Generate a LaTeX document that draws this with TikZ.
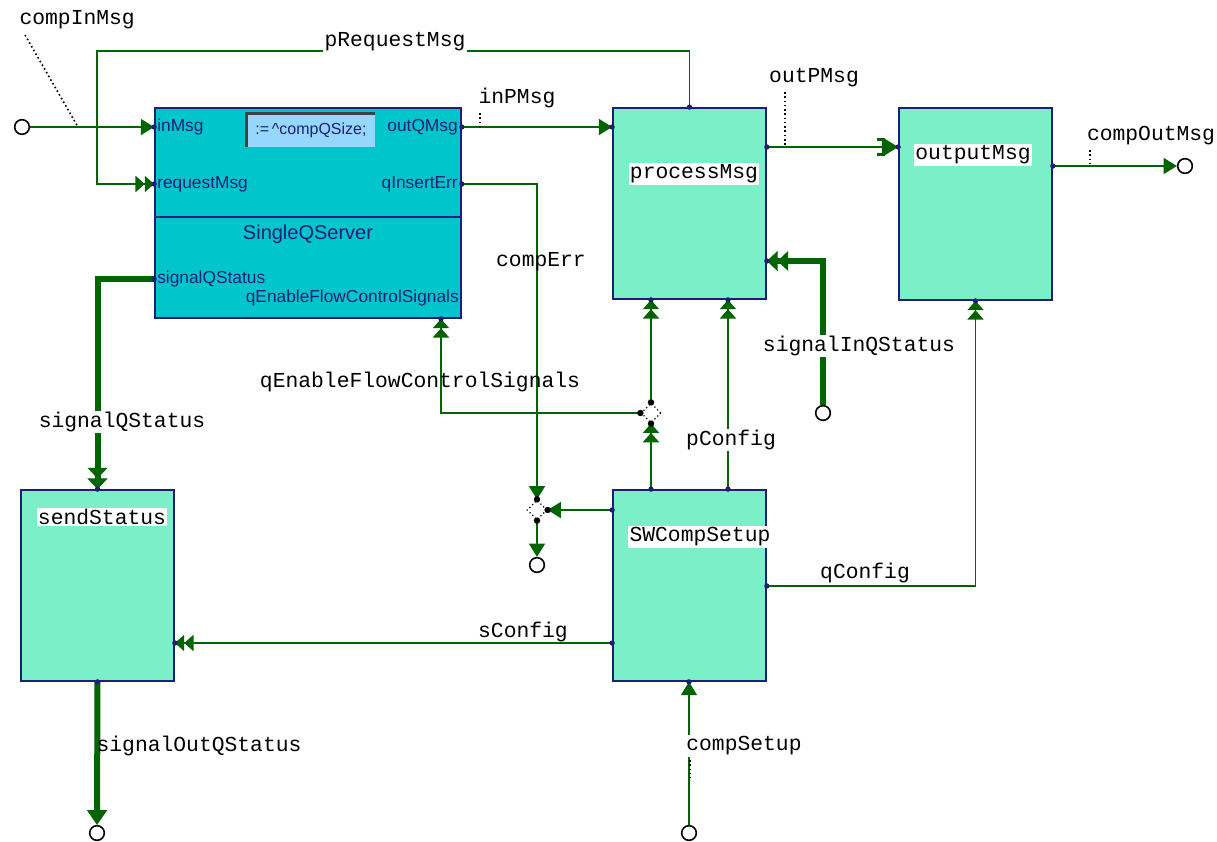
\documentclass[tikz,border=0pt]{standalone}
\usepackage{fontspec}
\setmainfont{Liberation Sans}
\newfontfamily\monofnt{Liberation Mono}
\usetikzlibrary{arrows.meta,shapes.geometric}
\definecolor{wgreen}{RGB}{0,100,0}
\definecolor{aqua}{RGB}{122,239,200}
\definecolor{cyanbox}{RGB}{0,198,204}
\definecolor{navy}{RGB}{30,30,120}
\definecolor{fieldblue}{RGB}{150,215,255}
\begin{document}
\begin{tikzpicture}[x=0.75pt,y=-0.75pt,
 wire/.style={draw=wgreen,line width=1.4pt},
 fat/.style={draw=wgreen,line width=4.5pt},
 blk/.style={draw=navy,fill=aqua,line width=1.3pt,minimum width=114.75pt,minimum height=143.25pt,inner sep=0pt},
 lbl/.style={font=\monofnt\fontsize{16}{18}\selectfont,inner sep=1pt,text=black},
 wlbl/.style={lbl,fill=white},
 plbl/.style={font=\fontsize{13}{15}\selectfont,text=navy,inner sep=0pt},
 term/.style={circle,draw=black,line width=1.2pt,minimum size=11pt,inner sep=0pt,fill=white},
 junc/.style={diamond,draw=black,dotted,line width=0.9pt,minimum size=15pt,inner sep=0pt,fill=white},
 tipone/.style={-{Triangle[width=12pt,length=10pt]}},
 tiptwo/.style={-{Triangle[width=12pt,length=7pt] Triangle[width=12pt,length=7pt]}},
 tipbr/.style={-{Bracket[width=13pt,length=5pt,line width=2pt] Triangle[width=12pt,length=10pt]}},
 fatone/.style={-{Triangle[width=15pt,length=11pt,line width=0.5pt]}},
 fattwo/.style={-{Triangle[width=15pt,length=8pt,line width=0.5pt] Triangle[width=15pt,length=8pt,line width=0.5pt]}},
 dots/.style={draw=black,dotted,line width=1.2pt},
]
\useasboundingbox[fill=white] (0,0) rectangle (1217,842);

% blocks
\node[blk,fill=cyanbox,minimum width=229.5pt,minimum height=157.5pt] (sqs) at (308,213) {};
\draw[navy,line width=1.3pt] (sqs.west |- 0,217) -- (sqs.east |- 0,217);
\node[blk] (pm) at (689.5,203.5) {};
\node[blk,minimum height=144pt] (om) at (975.5,204) {};
\node[blk] (sw) at (689.5,585.5) {};
\node[blk] (ss) at (97.5,585.5) {};

% SingleQServer contents
\node[plbl,anchor=west] (inmsg) at (157,127) {inMsg};
\node[plbl,anchor=west] (reqmsg) at (157,184) {requestMsg};
\node[plbl,anchor=east] (outq) at (458,127) {outQMsg};
\node[plbl,anchor=east] (qins) at (458,184) {qInsertErr};
\node[plbl,anchor=west] (sqst) at (157,279) {signalQStatus};
\node[plbl,anchor=east] (qefc) at (459,298) {qEnableFlowControlSignals};
\node[font=\fontsize{15}{17}\selectfont,text=navy] (sqsname) at (308,234) {SingleQServer};
\node[fill=fieldblue,minimum width=96pt,minimum height=24.75pt,inner sep=0pt,font=\fontsize{12}{14}\selectfont,text=navy] (fld) at (311,130) {:=\,\textasciicircum compQSize;};
\draw[darkgray,line width=2pt] (fld.south west) -- (fld.north west) -- (fld.north east);

% block titles
\node[wlbl] (tpm) at (694,174) {processMsg};
\node[wlbl] (tom) at (973,155) {outputMsg};
\node[wlbl] (tsw) at (700,537) {SWCompSetup};
\node[wlbl] (tss) at (102,517) {sendStatus};

% terminals
\node[term] (tin) at (22,127) {};
\node[term] (tout) at (1185,166) {};
\node[term] (tsig) at (823,413) {};
\node[term] (terr) at (537,565) {};
\node[term] (tsout) at (97,833) {};
\node[term] (tset) at (689,833) {};

% junctions
\node[junc] (j1) at (537,510) {};
\node[junc] (j2) at (651,413) {};

% wires
\draw[wire,tipone] (tin.east) -- (tin.east -| sqs.west);
\coordinate (prA) at (97,51);
\draw[wire,tiptwo] (pm.north) |- (prA) |- (sqs.west |- 0,184);
\draw[wire,tipone] (sqs.east |- 0,127) -- (pm.west |- 0,127);
\draw[wire,tipbr] (pm.east |- 0,147) -- (om.west |- 0,147);
\draw[wire,tipone] (om.east |- 0,166) -- (tout.west);
\draw[fat,fattwo] (tsig.north) |- (pm.east |- 0,261);
\draw[wire,tipone] (sqs.east |- 0,184) -| (j1.north);
\draw[wire,tipone] (j1.south) -- (terr.north);
\draw[wire,tipone] (sw.west |- j1) -- (j1.east);
\draw[wire,tiptwo] (sw.north -| j2) -- (j2.south);
\draw[wire,tiptwo] (j2.north) -- (pm.south -| j2);
\draw[wire,tiptwo] (j2.west) -| (sqs.south -| 441,0);
\draw[wire,tiptwo] (sw.north -| 728,0) -- (pm.south -| 728,0);
\draw[wire,tiptwo] (sw.east |- 0,586) -| (om.south);
\draw[wire,tiptwo] (sw.west |- 0,643) -- (ss.east |- 0,643);
\draw[fat,fattwo] (sqs.west |- 0,279) -| (ss.north);
\draw[fat,fatone] (ss.south) -- (tsout.north);
\draw[wire,tipone] (tset.north) -- (sw.south -| tset);

% junction corner dots
\foreach \p in {j1.north,j1.south,j1.east,j2.north,j2.south,j2.west}
  \fill[black] (\p) circle (2.4pt);

% port dots
\foreach \p in {{sqs.west |- 0,127},{sqs.west |- 0,184},{sqs.east |- 0,127},{sqs.east |- 0,184},{sqs.west |- 0,279},{sqs.south -| 441,0},
  {pm.north},{pm.west |- 0,127},{pm.east |- 0,147},{pm.east |- 0,261},{pm.south -| j2},{pm.south -| 728,0},
  {om.west |- 0,147},{om.east |- 0,166},{om.south},
  {sw.north -| j2},{sw.north -| 728,0},{sw.west |- j1},{sw.east |- 0,586},{sw.west |- 0,643},{sw.south -| tset},
  {ss.north},{ss.east |- 0,643},{ss.south}}
  \fill[navy] (\p) circle (2pt);

% labels
\node[lbl,anchor=west] (lcin) at (18,20) {compInMsg};
\coordinate (cinT) at (78,127);
\draw[dots] (25,35) -- (cinT);
\node[wlbl] (lpr) at (395,42) {pRequestMsg};
\node[lbl] (linp) at (517,98) {inPMsg};
\draw[dots] (480,113) -- (480,127);
\node[lbl] (loutp) at (814,78) {outPMsg};
\draw[dots] (785,92) -- (785,147);
\node[lbl] (lcout) at (1151,136) {compOutMsg};
\draw[dots] (1090,150) -- (1090,166);
\node[wlbl] (lsig) at (859,346) {signalInQStatus};
\node[lbl] (lerr) at (541,262) {compErr};
\node[lbl] (lqe) at (420,382) {qEnableFlowControlSignals};
\node[wlbl] (lpc) at (731,440) {pConfig};
\node[lbl] (lqc) at (865,573) {qConfig};
\node[lbl] (lsc) at (523,632) {sConfig};
\node[wlbl] (lsq) at (122,422) {signalQStatus};
\node[lbl,anchor=west] (lso) at (95,746) {signalOutQStatus};
\node[wlbl] (lcs) at (744,746) {compSetup};
\draw[dots] (690,760) -- (690,778);
\end{tikzpicture}
\end{document}
